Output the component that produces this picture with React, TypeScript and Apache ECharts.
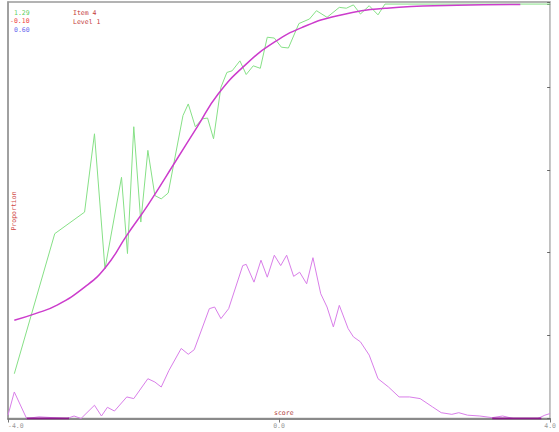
import React, { useEffect, useRef } from "react";
import * as echarts from "echarts";

// x-axis tick labels (min, middle, max)
const xTickLabels = ["-4.0", "0.0", "4.0"];

// Item parameters shown top-left, and item/level caption
const paramLabels = ["1.29", "-0.10", "0.60"];
const captionLabels = ["Item 4", "Level 1"];
const xAxisName = "score";
const yAxisName = "Proportion";

// Empirical proportion (green, noisy)
const empiricalTheta = [
  -3.907, -3.31, -2.87, -2.724, -2.569, -2.325, -2.237, -2.144, -2.04, -1.936,
  -1.833, -1.739, -1.636, -1.418, -1.34, -1.236, -1.133, -1.055, -0.967, -0.858,
  -0.77, -0.692, -0.578, -0.485, -0.381, -0.277, -0.174, -0.07, 0.034, 0.138,
  0.293, 0.449, 0.552, 0.708, 0.889, 0.993, 1.097, 1.201, 1.33, 1.46, 1.563, 4.0,
];
const empiricalProp = [
  0.108, 0.446, 0.498, 0.687, 0.361, 0.582, 0.398, 0.704, 0.474, 0.647,
  0.538, 0.53, 0.544, 0.731, 0.759, 0.704, 0.723, 0.725, 0.675, 0.799,
  0.835, 0.839, 0.863, 0.83, 0.851, 0.845, 0.92, 0.918, 0.896, 0.894,
  0.953, 0.964, 0.984, 0.968, 0.992, 0.99, 0.998, 0.976, 0.996, 0.974, 1.0, 1.0,
];

// Model curve (magenta, smooth)
const iccTheta = [
  -3.907, -3.596, -3.284, -2.87, -2.559, -2.247, -1.936, -1.522, -1.21, -0.899,
  -0.485, -0.07, 0.345, 0.863, 1.589, 2.626, 3.56,
];
const iccProb = [
  0.237, 0.253, 0.273, 0.317, 0.365, 0.442, 0.515, 0.622, 0.703, 0.783,
  0.855, 0.908, 0.944, 0.972, 0.99, 0.997, 0.999,
];

// Score density (light magenta, noisy)
const densityTheta = [
  -4.0, -3.907, -3.725, -3.544, -3.336, -3.129, -3.025, -2.922, -2.724, -2.621,
  -2.533, -2.429, -2.247, -2.144, -1.936, -1.833, -1.739, -1.625, -1.444, -1.34,
  -1.252, -1.029, -0.951, -0.858, -0.744, -0.536, -0.485, -0.37, -0.267, -0.174,
  -0.07, 0.024, 0.112, 0.215, 0.304, 0.407, 0.5, 0.615, 0.708, 0.801,
  0.889, 1.019, 1.097, 1.201, 1.33, 1.46, 1.615, 1.771, 1.926, 2.082,
  2.264, 2.393, 2.549, 2.652, 2.782, 2.963, 3.145, 3.3, 3.456, 3.819, 3.922, 4.0,
];
const densityValue = [
  0.008, 0.064, 0.0, 0.004, 0.002, 0.0, 0.006, 0.0, 0.032, 0.006,
  0.027, 0.018, 0.052, 0.048, 0.096, 0.088, 0.076, 0.116, 0.169, 0.155,
  0.166, 0.265, 0.269, 0.241, 0.265, 0.369, 0.372, 0.329, 0.382, 0.341,
  0.394, 0.369, 0.394, 0.343, 0.353, 0.325, 0.388, 0.301, 0.269, 0.221,
  0.273, 0.217, 0.197, 0.185, 0.153, 0.096, 0.076, 0.052, 0.052, 0.048,
  0.028, 0.014, 0.01, 0.014, 0.008, 0.006, 0.002, 0.006, 0.0, 0.0, 0.008, 0.012,
];

// Dark baseline segments where the density is zero
const baseSegA = [-3.725, -3.1];
const baseSegB = [3.145, 3.87];

const zip = (xs: number[], ys: number[]) => xs.map((x, i) => [x, ys[i]]);

export default function App() {
  const ref = useRef<HTMLDivElement>(null);

  useEffect(() => {
    if (!ref.current) return;
    const chart = echarts.init(ref.current, null, { renderer: "svg" });
    const mono = "DejaVu Sans Mono";
    const paramColors = ["#5fcf5f", "#ee4444", "#6a6aee"];
    chart.setOption({
      animation: false,
      backgroundColor: "#ffffff",
      grid: {
        left: 8,
        right: 3,
        top: 2,
        bottom: 13.5,
        show: true,
        borderColor: "#9a9a9a",
        borderWidth: 1.5,
      },
      xAxis: {
        type: "value",
        min: -4,
        max: 4,
        interval: 4,
        axisLine: { show: true, onZero: false, lineStyle: { color: "#8a8a8a", width: 2 } },
        axisTick: { show: true, length: 4, lineStyle: { color: "#777" } },
        axisLabel: {
          fontSize: 6.5,
          fontFamily: mono,
          color: "#9a9a9a",
          margin: 4,
          alignMinLabel: "left",
          formatter: (_v: number, i: number) => xTickLabels[i] ?? "",
        },
        splitLine: { show: false },
      },
      yAxis: [
        {
          type: "value",
          position: "left",
          min: 0,
          max: 1.005,
          interval: 0.2,
          axisLine: { show: true, onZero: false, lineStyle: { color: "#9a9a9a", width: 1.5 } },
          axisTick: { show: false },
          axisLabel: { show: false },
          splitLine: { show: false },
        },
        {
          type: "value",
          position: "right",
          min: 0,
          max: 1.005,
          interval: 0.2,
          axisLine: { show: true, onZero: false, lineStyle: { color: "#c8c8c8", width: 1 } },
          axisTick: { show: true, inside: true, length: 3, lineStyle: { color: "#666" } },
          axisLabel: { show: false },
          splitLine: { show: false },
        },
      ],
      series: [
        {
          name: "density",
          type: "line",
          data: zip(densityTheta, densityValue),
          showSymbol: false,
          lineStyle: { color: "#d97ee9", width: 1 },
          z: 2,
        },
        {
          name: "baseA",
          type: "line",
          data: baseSegA.map((x) => [x, 0]),
          showSymbol: false,
          lineStyle: { color: "#8a1a8a", width: 2 },
          z: 3,
        },
        {
          name: "baseB",
          type: "line",
          data: baseSegB.map((x) => [x, 0]),
          showSymbol: false,
          lineStyle: { color: "#8a1a8a", width: 2 },
          z: 3,
        },
        {
          name: "empirical",
          type: "line",
          data: zip(empiricalTheta, empiricalProp),
          showSymbol: false,
          lineStyle: { color: "#86e086", width: 1 },
          z: 4,
        },
        {
          name: "model",
          type: "line",
          data: zip(iccTheta, iccProb),
          smooth: true,
          showSymbol: false,
          lineStyle: { color: "#cc3ccc", width: 1.5 },
          z: 5,
        },
      ],
      graphic: [
        ...paramLabels.map((t, i) => ({
          type: "text",
          left: i === 1 ? 10 : 14,
          top: 9 + i * 8.5,
          style: { text: t, fontSize: 6.5, fontFamily: mono, fill: paramColors[i] },
        })),
        ...captionLabels.map((t, i) => ({
          type: "text",
          left: 73,
          top: 9 + i * 9.5,
          style: { text: t, fontSize: 6.5, fontFamily: mono, fill: "#c43a3a" },
        })),
        {
          type: "text",
          x: 14,
          y: 211,
          rotation: Math.PI / 2,
          style: {
            text: yAxisName,
            fontSize: 6.5,
            fontFamily: mono,
            fill: "#d04848",
            align: "center",
            verticalAlign: "middle",
          },
        },
        {
          type: "text",
          x: 274,
          y: 413,
          style: {
            text: xAxisName,
            fontSize: 6.5,
            fontFamily: mono,
            fill: "#b04040",
            align: "left",
            verticalAlign: "middle",
          },
        },
      ],
    });
    return () => chart.dispose();
  }, []);

  return (
    <div
      ref={ref}
      style={{ position: "fixed", left: 0, top: 0, width: 559, height: 432 }}
    />
  );
}
